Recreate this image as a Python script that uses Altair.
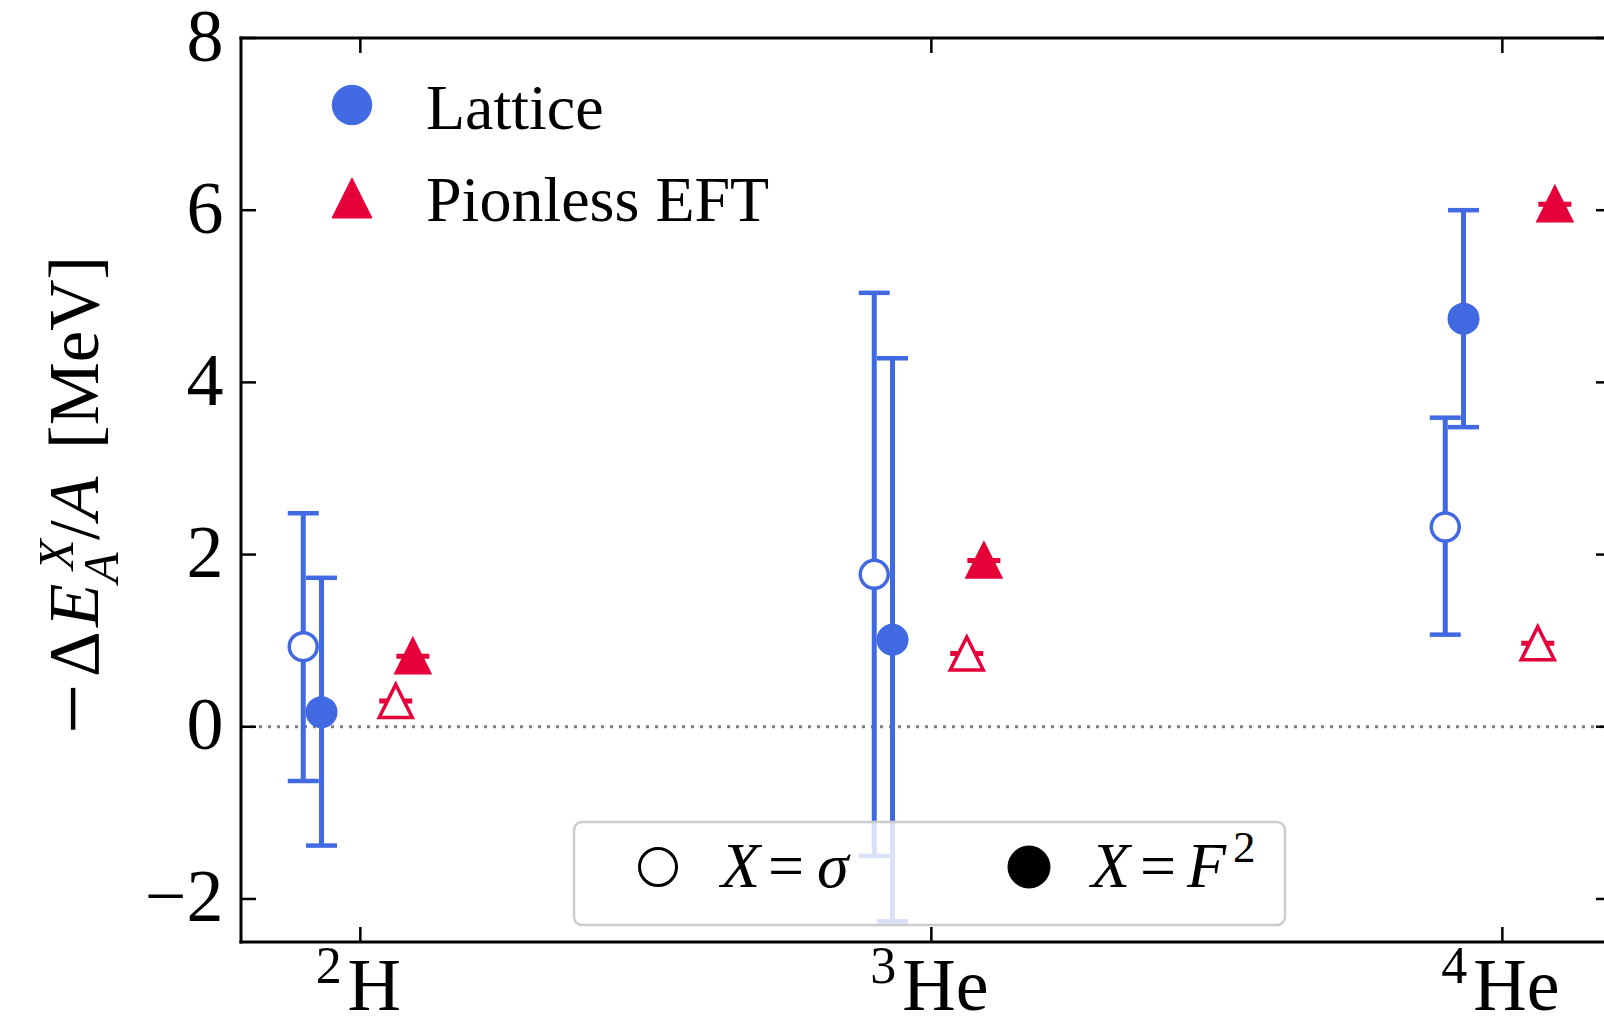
import altair as alt
import pandas as pd

# ---------------- data ----------------
nucleus_index = [0, 1, 2]
nuclei_mass = ["2", "3", "4"]
nuclei_symbol = ["H", "He", "He"]

lat_sigma = [0.93, 1.77, 2.32]
lat_sigma_lo = [-0.63, -1.50, 1.07]
lat_sigma_hi = [2.48, 5.04, 3.59]

lat_f2 = [0.17, 1.01, 4.74]
lat_f2_lo = [-1.38, -2.26, 3.48]
lat_f2_hi = [1.73, 4.28, 6.00]

eft_sigma = [0.30, 0.85, 0.97]
eft_f2 = [0.82, 1.93, 6.07]

y_ticks = [-2, 0, 2, 4, 6, 8]
x_ticks = [0, 1, 2]

# ---------------- styling ----------------
BLUE = "#4169e1"
RED = "#e6003a"
FONT = "Liberation Serif"
W, H = 1363, 904
X_DOM = [-0.209, 2.178]
Y_DOM = [-2.5, 8]
OFF_LS, OFF_LF, OFF_ES, OFF_EF = -0.100, -0.068, 0.062, 0.092

xs = alt.Scale(domain=X_DOM, nice=False, zero=False)
ys = alt.Scale(domain=Y_DOM, nice=False, zero=False)
yaxis = alt.Axis(values=y_ticks, title=None, grid=False, ticks=False, domain=False,
                 labelFont=FONT, labelFontSize=74, labelColor="black",
                 labelPadding=18, labelFlush=False, labelOverlap=False)


def X(f):
    return alt.X(f, type="quantitative", scale=xs, axis=None)


def Y(f):
    return alt.Y(f, type="quantitative", scale=ys, axis=yaxis)


def series(vals, off, lo=None, hi=None):
    d = {"x": [i + off for i in nucleus_index], "v": vals}
    if lo is not None:
        d["lo"] = lo
        d["hi"] = hi
    return pd.DataFrame(d)


df_ls = series(lat_sigma, OFF_LS, lat_sigma_lo, lat_sigma_hi)
df_lf = series(lat_f2, OFF_LF, lat_f2_lo, lat_f2_hi)
df_es = series(eft_sigma, OFF_ES)
df_ef = series(eft_f2, OFF_EF)

one = pd.DataFrame({"d": [0]})
TRI = "M0,-1L1,1L-1,1Z"


def txt(s, x, y, size, style="normal", angle=0, align="left"):
    return alt.Chart(one).mark_text(
        text=s, font=FONT, fontSize=size, fontStyle=style, angle=angle,
        align=align, baseline="alphabetic", color="black"
    ).encode(x=alt.value(x), y=alt.value(y))


layers = []

# zero dotted line
layers.append(
    alt.Chart(pd.DataFrame({"z": [0]})).mark_rule(
        color="#808080", strokeWidth=3, strokeDash=[3, 6]
    ).encode(y=Y("z"), x=alt.value(0), x2=alt.value(W))
)


def errorbars(df):
    bar = alt.Chart(df).mark_rule(color=BLUE, strokeWidth=5).encode(
        x=X("x"), y=Y("lo"), y2="hi")
    cap_lo = alt.Chart(df).mark_tick(orient="horizontal", size=31, thickness=4.5,
                                     color=BLUE, opacity=1).encode(x=X("x"), y=Y("lo"))
    cap_hi = alt.Chart(df).mark_tick(orient="horizontal", size=31, thickness=4.5,
                                     color=BLUE, opacity=1).encode(x=X("x"), y=Y("hi"))
    return [bar, cap_lo, cap_hi]


# lattice sigma (open circles)
layers += errorbars(df_ls)
layers.append(
    alt.Chart(df_ls).mark_point(shape="circle", filled=True, fill="white", stroke=BLUE,
                                strokeWidth=3.5, size=784, opacity=1).encode(x=X("x"), y=Y("v"))
)
# lattice F^2 (filled circles)
layers += errorbars(df_lf)
layers.append(
    alt.Chart(df_lf).mark_point(shape="circle", filled=True, fill=BLUE, stroke=BLUE,
                                strokeWidth=2, size=900, opacity=1).encode(x=X("x"), y=Y("v"))
)

# pionless EFT triangles
for df, filled in [(df_es, False), (df_ef, True)]:
    layers.append(
        alt.Chart(df).mark_tick(orient="horizontal", size=33, thickness=5, color=RED,
                                opacity=1).encode(x=X("x"), y=Y("v"))
    )
    layers.append(
        alt.Chart(df).mark_point(shape=TRI, filled=True, fill=(RED if filled else "white"),
                                 stroke=RED, strokeWidth=3.5, size=1089, opacity=1,
                                 strokeJoin="miter").encode(x=X("x"), y=Y("v"))
    )

# legend box (lower)
layers.append(
    alt.Chart(one).mark_rect(cornerRadius=8, fill="white", fillOpacity=0.8,
                             stroke="#cccccc", strokeWidth=2.5).encode(
        x=alt.value(333), x2=alt.value(1044), y=alt.value(784), y2=alt.value(887))
)
layers.append(
    alt.Chart(one).mark_point(shape="circle", filled=True, fill="white", stroke="black",
                              strokeWidth=3, size=1369, opacity=1).encode(
        x=alt.value(417), y=alt.value(829))
)
layers.append(
    alt.Chart(one).mark_point(shape="circle", filled=True, fill="black", stroke="black",
                              strokeWidth=1, size=1764, opacity=1).encode(
        x=alt.value(788), y=alt.value(829))
)
layers += [
    txt("X", 480, 849, 64, "italic"),
    txt("=", 527, 849, 64),
    txt("σ", 576, 849, 64, "italic"),
    txt("X", 850, 849, 64, "italic"),
    txt("=", 899, 849, 64),
    txt("F", 946, 849, 64, "italic"),
    txt("2", 992, 824, 45),
]

# legend (upper, no frame)
layers.append(
    alt.Chart(one).mark_point(shape="circle", filled=True, fill=BLUE, stroke=BLUE,
                              strokeWidth=1, size=1560, opacity=1).encode(
        x=alt.value(111), y=alt.value(67))
)
layers.append(
    alt.Chart(one).mark_point(shape=TRI, filled=True, fill=RED, stroke=RED,
                              strokeWidth=1, size=1600, opacity=1).encode(
        x=alt.value(111), y=alt.value(160))
)
layers += [
    txt("Lattice", 185, 91, 64),
    txt("Pionless EFT", 185, 183, 64),
]

# spines
layers += [
    alt.Chart(one).mark_rule(color="black", strokeWidth=3, strokeCap="square").encode(
        x=alt.value(0), x2=alt.value(W), y=alt.value(0)),
    alt.Chart(one).mark_rule(color="black", strokeWidth=3, strokeCap="square").encode(
        x=alt.value(0), x2=alt.value(W), y=alt.value(H)),
    alt.Chart(one).mark_rule(color="black", strokeWidth=3, strokeCap="square").encode(
        x=alt.value(0), y=alt.value(0), y2=alt.value(H)),
]

# inward ticks
xt = pd.DataFrame({"t": x_ticks})
yt = pd.DataFrame({"t": y_ticks})
TL = 15
layers += [
    alt.Chart(xt).mark_rule(color="black", strokeWidth=2.5).encode(
        x=X("t"), y=alt.value(0), y2=alt.value(TL)),
    alt.Chart(xt).mark_rule(color="black", strokeWidth=2.5).encode(
        x=X("t"), y=alt.value(H - TL), y2=alt.value(H)),
    alt.Chart(yt).mark_rule(color="black", strokeWidth=2.5).encode(
        y=Y("t"), x=alt.value(0), x2=alt.value(TL)),
    alt.Chart(yt).mark_rule(color="black", strokeWidth=2.5).encode(
        y=Y("t"), x=alt.value(W - 8), x2=alt.value(W)),
]

# x tick labels: superscript mass number + element symbol
lab_df = pd.DataFrame({"x": nucleus_index, "mass": nuclei_mass, "sym": nuclei_symbol})
EM = {"H": 0.722, "e": 0.444}
layers.append(
    alt.Chart(lab_df).mark_text(font=FONT, fontSize=74, align="center", baseline="alphabetic",
                                dx=14, color="black").encode(
        x=X("x"), y=alt.value(H + 68), text="sym:N")
)
for i in range(len(nucleus_index)):
    w = sum(EM.get(c, 0.5) for c in nuclei_symbol[i]) * 74
    layers.append(
        alt.Chart(lab_df.iloc[[i]]).mark_text(font=FONT, fontSize=52, align="right",
                                              baseline="alphabetic", dx=14 - w / 2 - 6,
                                              color="black").encode(
            x=X("x"), y=alt.value(H + 41), text="mass:N")
    )

# y-axis title: −ΔE_A^X/A [MeV]
TB = -143
layers += [
    txt("−", TB + 5, 696, 90, angle=270),
    txt("Δ", TB, 639, 71, angle=270),
    txt("E", TB, 589, 71, "italic", angle=270),
    txt("X", TB - 25, 532, 50, "italic", angle=270),
    txt("A", TB + 20, 545, 50, "italic", angle=270),
    txt("/", TB, 502, 71, angle=270),
    txt("A", TB, 482, 71, "italic", angle=270),
    txt("[MeV]", TB, 411, 71, angle=270),
]

chart = alt.layer(*layers).properties(
    width=W, height=H,
    padding={"left": 241, "top": 38, "right": 0, "bottom": 75},
    autosize=alt.AutoSizeParams(type="none"),
).configure_view(stroke=None)

chart.save("out.html", embed_options={"renderer": "svg", "actions": False})
